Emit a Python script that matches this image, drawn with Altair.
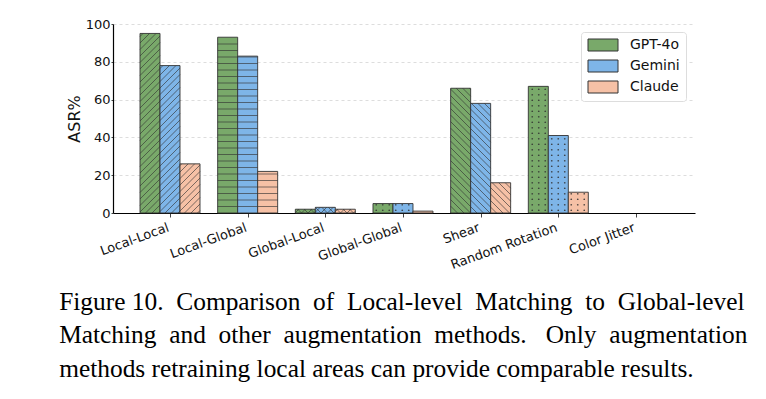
import json
import math
import altair as alt
import pandas as pd

# ---------------- data ----------------
categories = ["Local-Local", "Local-Global", "Global-Local", "Global-Global",
              "Shear", "Random Rotation", "Color Jitter"]
models = ["GPT-4o", "Gemini", "Claude"]
gpt4o = [95, 93, 2, 5, 66, 67, 0]
gemini = [78, 83, 3, 5, 58, 41, 0]
claude = [26, 22, 2, 1, 16, 11, 0]
y_ticks = [0, 20, 40, 60, 80, 100]
NB = "\u00a0"
caption = [
    f"Figure 10. {NB}Comparison {NB}of {NB}Local-level {NB}Matching {NB}to {NB}Global-level",
    f"Matching {NB}and {NB}other {NB}augmentation {NB}methods. {NB}{NB}Only {NB}augmentation",
    "methods retraining local areas can provide comparable results.",
]

# ---------------- style ----------------
hatch_styles = ["/", "-", "x", ".", "\\", ".", ""]
colors = ["#79a96a", "#7eb5e8", "#f6c1a6"]
edge = "#333333"

W, H = 582, 189
XMIN, XMAX = -0.734, 6.76
BAR_W = 0.2575
KX = W / (XMAX - XMIN)
KY = H / 100.0
D = 6.5  # hatch spacing in px

series = [gpt4o, gemini, claude]
bars = []
for i, cat in enumerate(categories):
    for j, m in enumerate(models):
        x0 = i + (j - 1.5) * BAR_W
        bars.append({"cat": cat, "model": m, "x0": x0, "x1": x0 + BAR_W,
                     "v": series[j][i], "hatch": hatch_styles[i]})
bars_df = pd.DataFrame(bars)

segs, dots = [], []


def to_data(px, py):
    return XMIN + px / KX, py / KY


for b in bars:
    if b["v"] <= 0:
        continue
    px0, px1 = (b["x0"] - XMIN) * KX, (b["x1"] - XMIN) * KX
    py0, py1 = 0.0, b["v"] * KY
    h = b["hatch"]
    pts = []
    if h in ("/", "x"):
        for k in range(math.ceil((py0 - px1) / D), math.floor((py1 - px0) / D) + 1):
            c = k * D
            a, e = max(px0, py0 - c), min(px1, py1 - c)
            if e - a > 0.3:
                pts.append(((a, a + c), (e, e + c)))
    if h in ("\\", "x"):
        for k in range(math.ceil((px0 + py0) / D), math.floor((px1 + py1) / D) + 1):
            c = k * D
            a, e = max(px0, c - py1), min(px1, c - py0)
            if e - a > 0.3:
                pts.append(((a, c - a), (e, c - e)))
    if h == "-":
        k = 1
        while k * D < py1 - 0.5:
            pts.append(((px0, k * D), (px1, k * D)))
            k += 1
    for (p, q) in pts:
        xa, ya = to_data(*p)
        xb, yb = to_data(*q)
        segs.append({"xa": xa, "xb": xb, "ya": ya, "yb": yb})
    if h == ".":
        gx = math.floor(px0 / D)
        while gx * D < px1:
            cx = gx * D + D / 2
            gy = 0
            while gy * 5.5 + 2.75 < py1 - 1:
                cy = gy * 5.5 + 2.75
                if px0 + 1 < cx < px1 - 1:
                    xd, yd = to_data(cx, cy)
                    dots.append({"xd": xd, "yd": yd})
                gy += 1
            gx += 1

segs_df = pd.DataFrame(segs)
dots_df = pd.DataFrame(dots)

xscale = alt.Scale(domain=[XMIN, XMAX], nice=False, zero=False)
yscale = alt.Scale(domain=[0, 100], nice=False, zero=True)

label_expr = json.dumps(categories) + "[datum.value]"

x_axis = alt.Axis(values=list(range(len(categories))), labelExpr=label_expr,
                  labelAngle=-20, labelAlign="right", labelBaseline="top",
                  labelFont="DejaVu Sans", labelFontSize=13, labelColor="#111",
                  tickSize=4, tickColor="#444", domainColor="#000", domainWidth=1.2,
                  grid=False, title=None, labelPadding=4, labelOffset=-4,
                  labelOverlap=False)
y_axis = alt.Axis(values=y_ticks, labelFont="DejaVu Sans", labelFontSize=13,
                  labelColor="#111", tickSize=2, tickColor="#444",
                  domainColor="#000", domainWidth=1.2, labelOverlap=False,
                  labelFlush=False, tickCount=6,
                  grid=True, gridDash=[3, 3], gridColor="#d4d4d4", gridWidth=0.8,
                  title="ASR%", titleFont="DejaVu Sans", titleFontSize=16,
                  titleFontWeight="normal", titleColor="#111", titlePadding=3,
                  labelPadding=1)

bar_layer = alt.Chart(bars_df).transform_filter("datum.v > 0").mark_rect(
    stroke=edge, strokeWidth=0.9).encode(
    x=alt.X("x0:Q", scale=xscale, axis=x_axis),
    x2="x1",
    y=alt.Y("v:Q", scale=yscale, axis=y_axis),
    y2=alt.datum(0),
    fill=alt.Fill("model:N", scale=alt.Scale(domain=models, range=colors),
                  sort=models,
                  legend=alt.Legend(title=None, orient="none", legendX=468, legendY=8,
                                    symbolType="M-1,-1H4V1H-1Z", symbolSize=144,
                                    symbolStrokeColor=edge, symbolStrokeWidth=1,
                                    symbolOpacity=1,
                                    labelFont="DejaVu Sans", labelFontSize=14,
                                    labelColor="#111", labelOffset=29,
                                    rowPadding=5, padding=6,
                                    strokeColor="#dddddd", fillColor="white",
                                    cornerRadius=3)),
)

seg_layer = alt.Chart(segs_df).mark_rule(color=edge, strokeWidth=0.8, opacity=0.8).encode(
    x=alt.X("xa:Q", scale=xscale, axis=x_axis),
    x2="xb",
    y=alt.Y("ya:Q", scale=yscale, axis=y_axis),
    y2="yb",
)

dot_layer = alt.Chart(dots_df).mark_circle(color=edge, size=3, opacity=0.85).encode(
    x=alt.X("xd:Q", scale=xscale, axis=x_axis),
    y=alt.Y("yd:Q", scale=yscale, axis=y_axis),
)

chart = alt.layer(bar_layer, seg_layer, dot_layer).properties(
    width=W, height=H,
    padding={"left": 105, "top": 16, "right": 63, "bottom": 178},
    autosize=alt.AutoSizeParams(type="none"),
    title=alt.TitleParams(text=caption, orient="bottom", anchor="start", dx=-7,
                          font="Liberation Serif", fontSize=25.4, fontWeight="normal",
                          color="#000", lineHeight=33.5, offset=18),
).configure_view(stroke=None)

chart.save("out.html", embed_options={"renderer": "svg", "actions": False})
